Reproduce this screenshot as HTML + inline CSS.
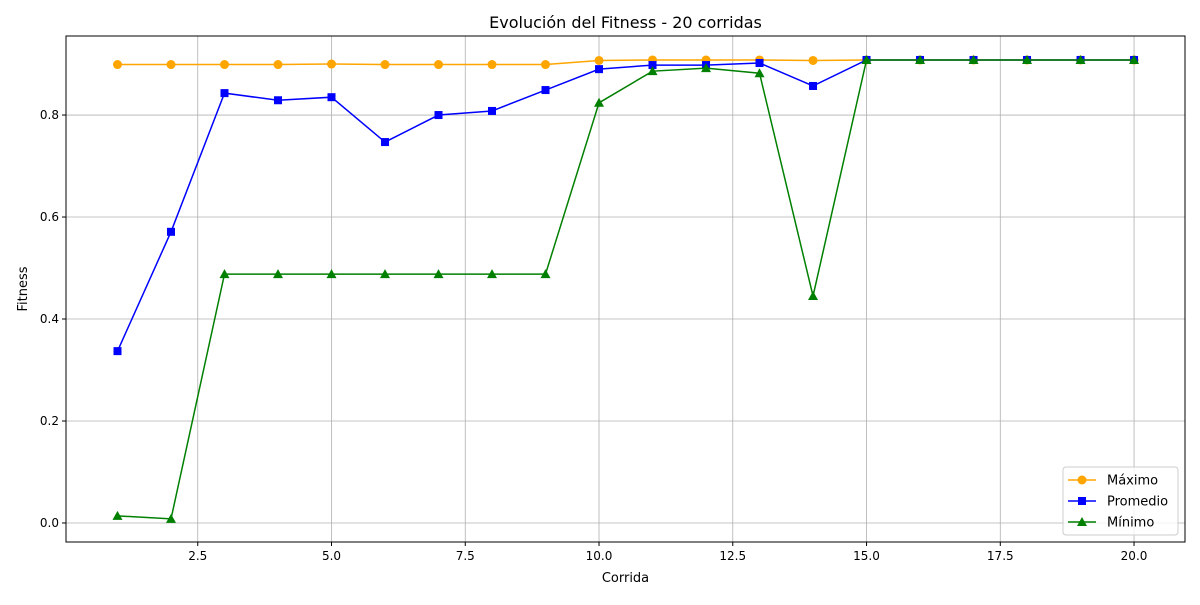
<!DOCTYPE html>
<html><head><meta charset="utf-8">
<style>
body{margin:0;background:#fff;font-family:"Liberation Sans","DejaVu Sans",sans-serif;}
svg text{font-family:"DejaVu Sans","Liberation Sans",sans-serif;fill:#000;}
</style></head>
<body>
<svg id="chart" width="1200" height="600" xmlns="http://www.w3.org/2000/svg">
<rect width="1200" height="600" fill="#fff"/>
<g id="grid"></g>
<g id="series"></g>
<rect x="66" y="36" width="1119" height="506" fill="none" stroke="#000" stroke-width="1"/>
<g id="ticks"></g>
<text x="625.5" y="28" text-anchor="middle" font-size="16">Evolución del Fitness - 20 corridas</text>
<text x="625.5" y="582" text-anchor="middle" font-size="13">Corrida</text>
<text x="27" y="289" text-anchor="middle" font-size="13" transform="rotate(-90 27 289)">Fitness</text>
<g id="legend">
<rect x="1063" y="467" width="115" height="68" rx="3" fill="#fff" fill-opacity="0.8" stroke="#ccc"/>
</g>
</svg>
<script>
const runs=[1,2,3,4,5,6,7,8,9,10,11,12,13,14,15,16,17,18,19,20];
const maxVals=[0.899,0.899,0.899,0.899,0.9,0.899,0.899,0.899,0.899,0.907,0.908,0.908,0.908,0.907,0.908,0.908,0.908,0.908,0.908,0.908];
const avgVals=[0.337,0.571,0.843,0.829,0.835,0.747,0.8,0.808,0.849,0.89,0.898,0.898,0.902,0.857,0.908,0.908,0.908,0.908,0.908,0.908];
const minVals=[0.014,0.008,0.488,0.488,0.488,0.488,0.488,0.488,0.488,0.824,0.886,0.892,0.882,0.445,0.908,0.908,0.908,0.908,0.908,0.908];
const xTicks=[2.5,5.0,7.5,10.0,12.5,15.0,17.5,20.0];
const yTicks=[0.0,0.2,0.4,0.6,0.8];
const seriesNames=["Máximo","Promedio","Mínimo"];
const NS="http://www.w3.org/2000/svg";
const L=66,R=1185,T=36,B=542;
const xMin=0.0375,xMax=20.9525,yMin=-0.0373,yMax=0.955;
const X=v=>L+(v-xMin)/(xMax-xMin)*(R-L);
const Y=v=>B-(v-yMin)/(yMax-yMin)*(B-T);
function mk(tag,attrs,parent){const e=document.createElementNS(NS,tag);for(const k in attrs)e.setAttribute(k,attrs[k]);parent.appendChild(e);return e;}
const grid=document.getElementById('grid'),ticks=document.getElementById('ticks');
xTicks.forEach(t=>{const x=X(t);
 const g=mk('line',{x1:x,x2:x,y1:T,y2:B,stroke:'#b0b0b0','stroke-width':0.8},grid);
 
 
 mk('line',{x1:x,x2:x,y1:B,y2:B+4,stroke:'#000'},ticks);
 const tx=mk('text',{x:x,y:B+18,'text-anchor':'middle','font-size':12},ticks);tx.textContent=t.toFixed(1);
 
 });
yTicks.forEach(t=>{const y=Y(t);
 const g=mk('line',{x1:L,x2:R,y1:y,y2:y,stroke:'#b0b0b0','stroke-width':0.8},grid);
 
 
 mk('line',{x1:L-4,x2:L,y1:y,y2:y,stroke:'#000'},ticks);
 const tx=mk('text',{x:L-7,y:y+4,'text-anchor':'end','font-size':12},ticks);tx.textContent=t.toFixed(1);
 
 });
function marker(type,x,y,color,parent){
 if(type==='o')return mk('circle',{cx:x,cy:y,r:4.5,fill:color},parent);
 if(type==='s')return mk('rect',{x:x-4,y:y-4,width:8,height:8,fill:color},parent);
 return mk('polygon',{points:`${x},${y-5} ${x-5},${y+4} ${x+5},${y+4}`,fill:color},parent);}
const sg=document.getElementById('series');
const all=[[maxVals,'orange','o','max'],[avgVals,'blue','s','avg'],[minVals,'green','^','min']];
all.forEach(([vals,c,m,n])=>{
 const g=mk('g',{},sg);
 
 
 mk('polyline',{points:runs.map((r,i)=>X(r)+','+Y(vals[i])).join(' '),fill:'none',stroke:c,'stroke-width':1.5},g);
 runs.forEach((r,i)=>{const p=marker(m,X(r),Y(vals[i]),c,g);
  
  });
});
const lg=document.getElementById('legend');
all.forEach(([v,c,m,n],i)=>{const y=480+i*21;
 const e=mk('g',{},lg);
 
 
 mk('line',{x1:1068,x2:1096,y1:y,y2:y,stroke:c,'stroke-width':1.5},e);
 marker(m,1082,y,c,e);
 const t=mk('text',{x:1107,y:y+4.5,'font-size':13},e);t.textContent=seriesNames[i];});
</script>
</body></html>
